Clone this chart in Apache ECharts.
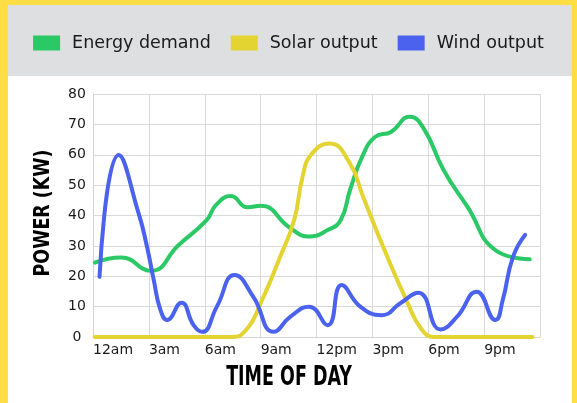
<!DOCTYPE html>
<html>
<head>
<meta charset="utf-8">
<script src="https://cdn.jsdelivr.net/npm/echarts@6/dist/echarts.min.js"></script>
<style>
  html, body { margin: 0; padding: 0; background: #ffdd44; }
  #chart { width: 577px; height: 403px; }
</style>
</head>
<body>
<div id="chart"></div>
<script>
// 时间轴刻度文字
const tickLabels = ['12am', '3am', '6am', '9am', '12pm', '3pm', '6pm', '9pm'];

// 用电需求 (小时, kW)
const demandHours = [0.1, 1.5, 3.1, 4.6, 6.1, 6.6, 7.4, 8.3, 9.0, 10.6, 11.6, 12.6, 13.3, 13.8, 14.45, 15.16, 16.0, 17.0, 17.76, 18.83, 20.1, 21.7, 23.45];
const demandKw = [24.5, 26.2, 21.8, 30.3, 38.5, 43.4, 46.4, 42.7, 43.2, 35.8, 33.1, 35.2, 38.5, 48.4, 59.3, 65.9, 67.5, 72.5, 68.6, 54.9, 42.9, 28.2, 25.6];

// 太阳能输出
const solarHours = [0.1, 7.0, 7.5, 8.3, 9.0, 10.05, 10.8, 11.25, 11.7, 12.7, 13.8, 14.5, 15.8, 16.9, 17.6, 18.3, 18.8, 23.6];
const solarKw = [0, 0, 0, 2.9, 11.1, 26.4, 38.5, 52.7, 59.9, 63.7, 57.1, 46.2, 26.4, 11.1, 2.9, 0, 0, 0];

// 风能输出
const windHours = [0.35, 1.38, 2.45, 2.9, 3.26, 3.62, 3.98, 4.75, 5.4, 5.86, 6.65, 7.6, 8.6, 9.7, 10.6, 11.6, 12.6, 13.35, 14.35, 15.5, 16.5, 17.47, 18.66, 19.55, 20.6, 21.6, 22.0, 22.55, 23.2];
const windKw = [19.8, 59.9, 40.7, 29.7, 18.8, 8.9, 5.6, 11.3, 3.9, 1.7, 10, 20.4, 13.3, 1.7, 6.7, 10, 3.9, 17.1, 10, 7.2, 11.1, 14.6, 2.5, 6.7, 14.9, 5.6, 12.2, 26.4, 33.6];

function pairs(xs, ys) {
    return xs.map(function (x, i) { return [x, ys[i]]; });
}

let chart = echarts.init(document.getElementById('chart'));

let font = '"DejaVu Sans", sans-serif';
let titleFont = '"DejaVu Sans Condensed", "DejaVu Sans", sans-serif';

function lineSeries(name, color, data) {
    return {
        name: name,
        type: 'line',
        data: data,
        smooth: 0.5,
        showSymbol: false,
        lineStyle: { color: color, width: 4, cap: 'round' },
        itemStyle: { color: color }
    };
}

let option = {
    backgroundColor: '#ffdd44',
    animation: false,
    graphic: [
        { type: 'rect', silent: true, z: -10, shape: { x: 8, y: 5, width: 564, height: 398 }, style: { fill: '#ffffff' } },
        { type: 'rect', silent: true, z: -9, shape: { x: 8, y: 5, width: 564, height: 71 }, style: { fill: '#dedfe1' } },
        {
            // 纵轴标题
            type: 'text', silent: true, x: 43, y: 213, rotation: Math.PI / 2, scaleX: 0.88,
            style: { text: 'POWER (KW)', font: 'bold 22px ' + titleFont, fill: '#000', align: 'center', verticalAlign: 'middle' }
        },
        {
            // 横轴标题
            type: 'text', silent: true, x: 289, y: 378, scaleX: 0.72,
            style: { text: 'TIME OF DAY', font: 'bold 27px ' + titleFont, fill: '#000', align: 'center', verticalAlign: 'middle' }
        }
    ],
    legend: {
        top: 29,
        left: 'center',
        icon: 'rect',
        itemWidth: 27,
        itemHeight: 15,
        itemGap: 20,
        textStyle: { fontFamily: font, fontSize: 17.5, color: '#1a1a1a', padding: [0, 0, 0, 7] }
    },
    grid: { left: 93, top: 94, right: 37, bottom: 66 },
    xAxis: {
        type: 'value',
        min: 0,
        max: 24,
        interval: 3,
        axisLine: { lineStyle: { color: '#d4d4d4' } },
        axisTick: { show: false },
        splitLine: { lineStyle: { color: '#d9d9d9' } },
        axisLabel: {
            align: 'left',
            margin: 6,
            showMaxLabel: false,
            color: '#1a1a1a',
            fontFamily: font,
            fontSize: 14,
            formatter: function (v) { return tickLabels[v / 3] || ''; }
        }
    },
    yAxis: {
        type: 'value',
        min: 0,
        max: 80,
        interval: 10,
        axisLine: { show: true, lineStyle: { color: '#d4d4d4' } },
        axisTick: { show: false },
        splitLine: { lineStyle: { color: '#d9d9d9' } },
        axisLabel: { align: 'center', margin: 16, color: '#1a1a1a', fontFamily: font, fontSize: 14 }
    },
    series: [
        lineSeries('Energy demand', '#2bc866', pairs(demandHours, demandKw)),
        lineSeries('Solar output', '#e3d431', pairs(solarHours, solarKw)),
        lineSeries('Wind output', '#4a62ed', pairs(windHours, windKw))
    ]
};
chart.setOption(option);
</script>
</body>
</html>
